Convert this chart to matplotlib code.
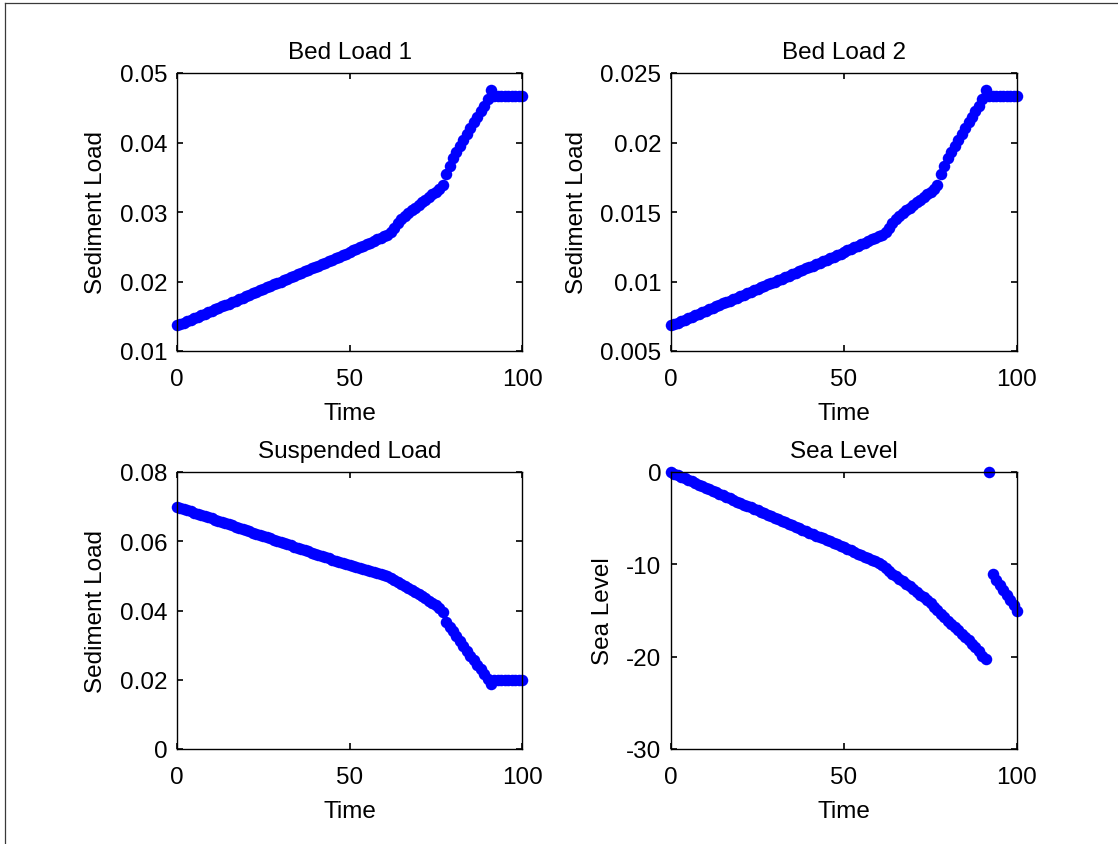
import matplotlib
matplotlib.use("Agg")
import matplotlib.pyplot as plt
from matplotlib.lines import Line2D
import numpy as np

plt.rcParams['font.family'] = ['Liberation Sans', 'DejaVu Sans']

time = list(range(0, 101))

bed_load_1 = [
    0.01370, 0.01390, 0.01410, 0.01431, 0.01452, 0.01473, 0.01494, 0.01515, 0.01536, 0.01557,
    0.01578, 0.01599, 0.01620, 0.01641, 0.01662, 0.01683, 0.01704, 0.01725, 0.01746, 0.01767,
    0.01788, 0.01809, 0.01830, 0.01851, 0.01872, 0.01893, 0.01914, 0.01935, 0.01957, 0.01978,
    0.01999, 0.02020, 0.02041, 0.02062, 0.02083, 0.02104, 0.02125, 0.02146, 0.02167, 0.02188,
    0.02209, 0.02230, 0.02251, 0.02272, 0.02294, 0.02315, 0.02336, 0.02357, 0.02379, 0.02401,
    0.02425, 0.02447, 0.02470, 0.02492, 0.02515, 0.02537, 0.02560, 0.02582, 0.02605, 0.02627,
    0.02650, 0.02675, 0.02710, 0.02770, 0.02840, 0.02900, 0.02942, 0.02983, 0.03023, 0.03062,
    0.03100, 0.03140, 0.03178, 0.03215, 0.03252, 0.03290, 0.03335, 0.03385, 0.03550, 0.03665,
    0.03770, 0.03860, 0.03950, 0.04040, 0.04125, 0.04210, 0.04290, 0.04370, 0.04450, 0.04530,
    0.04620, 0.04760, 0.04670, 0.04670, 0.04670, 0.04670, 0.04670, 0.04670, 0.04670, 0.04670,
    0.04670,
]

bed_load_2 = [
    0.00685, 0.00695, 0.00705, 0.00716, 0.00726, 0.00737, 0.00747, 0.00758, 0.00768, 0.00779,
    0.00789, 0.00800, 0.00810, 0.00821, 0.00831, 0.00842, 0.00852, 0.00863, 0.00873, 0.00884,
    0.00894, 0.00905, 0.00915, 0.00926, 0.00936, 0.00947, 0.00957, 0.00968, 0.00979, 0.00989,
    0.01000, 0.01010, 0.01021, 0.01031, 0.01042, 0.01052, 0.01063, 0.01073, 0.01084, 0.01094,
    0.01105, 0.01115, 0.01126, 0.01136, 0.01147, 0.01158, 0.01168, 0.01179, 0.01190, 0.01201,
    0.01213, 0.01224, 0.01235, 0.01246, 0.01258, 0.01269, 0.01280, 0.01291, 0.01303, 0.01314,
    0.01325, 0.01338, 0.01355, 0.01385, 0.01420, 0.01450, 0.01471, 0.01492, 0.01512, 0.01531,
    0.01550, 0.01570, 0.01589, 0.01608, 0.01626, 0.01645, 0.01668, 0.01693, 0.01775, 0.01833,
    0.01885, 0.01930, 0.01975, 0.02020, 0.02063, 0.02105, 0.02145, 0.02185, 0.02225, 0.02265,
    0.02310, 0.02380, 0.02335, 0.02335, 0.02335, 0.02335, 0.02335, 0.02335, 0.02335, 0.02335,
    0.02335,
]

suspended_load = [
    0.07000, 0.06966, 0.06932, 0.06898, 0.06864, 0.06830, 0.06796, 0.06762, 0.06728, 0.06694,
    0.06660, 0.06626, 0.06592, 0.06558, 0.06524, 0.06490, 0.06456, 0.06422, 0.06388, 0.06354,
    0.06320, 0.06286, 0.06252, 0.06218, 0.06184, 0.06150, 0.06116, 0.06082, 0.06048, 0.06014,
    0.05980, 0.05946, 0.05912, 0.05878, 0.05844, 0.05810, 0.05776, 0.05742, 0.05708, 0.05674,
    0.05640, 0.05606, 0.05572, 0.05538, 0.05504, 0.05470, 0.05436, 0.05402, 0.05368, 0.05334,
    0.05300, 0.05272, 0.05244, 0.05216, 0.05188, 0.05160, 0.05132, 0.05104, 0.05076, 0.05048,
    0.05020, 0.04990, 0.04945, 0.04885, 0.04825, 0.04765, 0.04705, 0.04645, 0.04590, 0.04535,
    0.04480, 0.04415, 0.04350, 0.04285, 0.04215, 0.04145, 0.04060, 0.03960, 0.03670, 0.03530,
    0.03410, 0.03260, 0.03120, 0.02980, 0.02840, 0.02700, 0.02565, 0.02430, 0.02300, 0.02170,
    0.02030, 0.01880, 0.02000, 0.02000, 0.02000, 0.02000, 0.02000, 0.02000, 0.02000, 0.02000,
    0.02000,
]

sea_level = [
    0.00, -0.17, -0.34, -0.51, -0.68, -0.85, -1.02, -1.19, -1.36, -1.53,
    -1.70, -1.87, -2.04, -2.21, -2.37, -2.54, -2.70, -2.87, -3.03, -3.20,
    -3.36, -3.52, -3.68, -3.84, -4.00, -4.16, -4.32, -4.48, -4.64, -4.80,
    -4.96, -5.12, -5.28, -5.44, -5.60, -5.76, -5.92, -6.08, -6.24, -6.40,
    -6.56, -6.72, -6.88, -7.04, -7.20, -7.36, -7.52, -7.68, -7.84, -8.00,
    -8.16, -8.33, -8.50, -8.67, -8.84, -9.01, -9.18, -9.35, -9.52, -9.69,
    -9.86, -10.12, -10.42, -10.72, -11.00, -11.28, -11.55, -11.82, -12.09, -12.36,
    -12.65, -12.96, -13.27, -13.58, -13.89, -14.20, -14.58, -14.96, -15.34, -15.72,
    -16.10, -16.45, -16.80, -17.15, -17.50, -17.85, -18.20, -18.60, -19.00, -19.40,
    -19.90, -20.20, 0.00, -11.10, -11.65, -12.20, -12.75, -13.30, -13.85, -14.40,
    -15.00,
]

titles = ["Bed Load 1", "Bed Load 2", "Suspended Load", "Sea Level"]
ylabels = ["Sediment Load", "Sediment Load", "Sediment Load", "Sea Level"]
series = [bed_load_1, bed_load_2, suspended_load, sea_level]
ylims = [(0.01, 0.05), (0.005, 0.025), (0.0, 0.08), (-30, 0)]
yticks = [[0.01, 0.02, 0.03, 0.04, 0.05],
          [0.005, 0.01, 0.015, 0.02, 0.025],
          [0.0, 0.02, 0.04, 0.06, 0.08],
          [-30, -20, -10, 0]]
yticklabels = [["0.01", "0.02", "0.03", "0.04", "0.05"],
               ["0.005", "0.01", "0.015", "0.02", "0.025"],
               ["0", "0.02", "0.04", "0.06", "0.08"],
               ["-30", "-20", "-10", "0"]]
xticks = [0, 50, 100]
xticklabels = ["0", "50", "100"]

W, H = 1118, 845
fig = plt.figure(figsize=(W / 100, H / 100), dpi=100)

# axes boxes in pixels: (left, top, right, bottom)
boxes = [(177, 74, 522, 352), (671, 74, 1017, 352),
         (177, 473, 522, 750), (671, 473, 1017, 750)]

FS = 17.5
for i in range(4):
    l, t, r, b = boxes[i]
    ax = fig.add_axes([l / W, (H - b) / H, (r - l) / W, (b - t) / H])
    ax.plot(time, series[i], linestyle='none', marker='o', markersize=8.3,
            markerfacecolor='#0000ff', markeredgecolor='#0000ff', markeredgewidth=0,
            clip_on=False)
    ax.set_xlim(0, 100)
    ax.set_ylim(*ylims[i])
    ax.set_xticks(xticks)
    ax.set_xticklabels(xticklabels)
    ax.set_yticks(yticks[i])
    ax.set_yticklabels(yticklabels[i])
    ax.tick_params(direction='in', top=True, right=True, length=4, width=1.2,
                   labelsize=FS, color='black')
    ax.tick_params(axis='x', pad=12)
    ax.tick_params(axis='y', pad=7)
    for s in ax.spines.values():
        s.set_linewidth(1.0)
        s.set_color('black')
    ax.set_title(titles[i], fontsize=FS, pad=11)
    ax.set_xlabel("Time", fontsize=FS, labelpad=9)
    ax.set_ylabel(ylabels[i], fontsize=FS, labelpad=9)

# outer frame (left and top edges)
fig.add_artist(Line2D([5 / W, 5 / W], [0, 1 - 4 / H], transform=fig.transFigure,
                      color='#3a3a3a', linewidth=0.9))
fig.add_artist(Line2D([5 / W, 1], [1 - 4 / H, 1 - 4 / H], transform=fig.transFigure,
                      color='#3a3a3a', linewidth=0.9))

fig.savefig("out.png", dpi=100, facecolor='white')
